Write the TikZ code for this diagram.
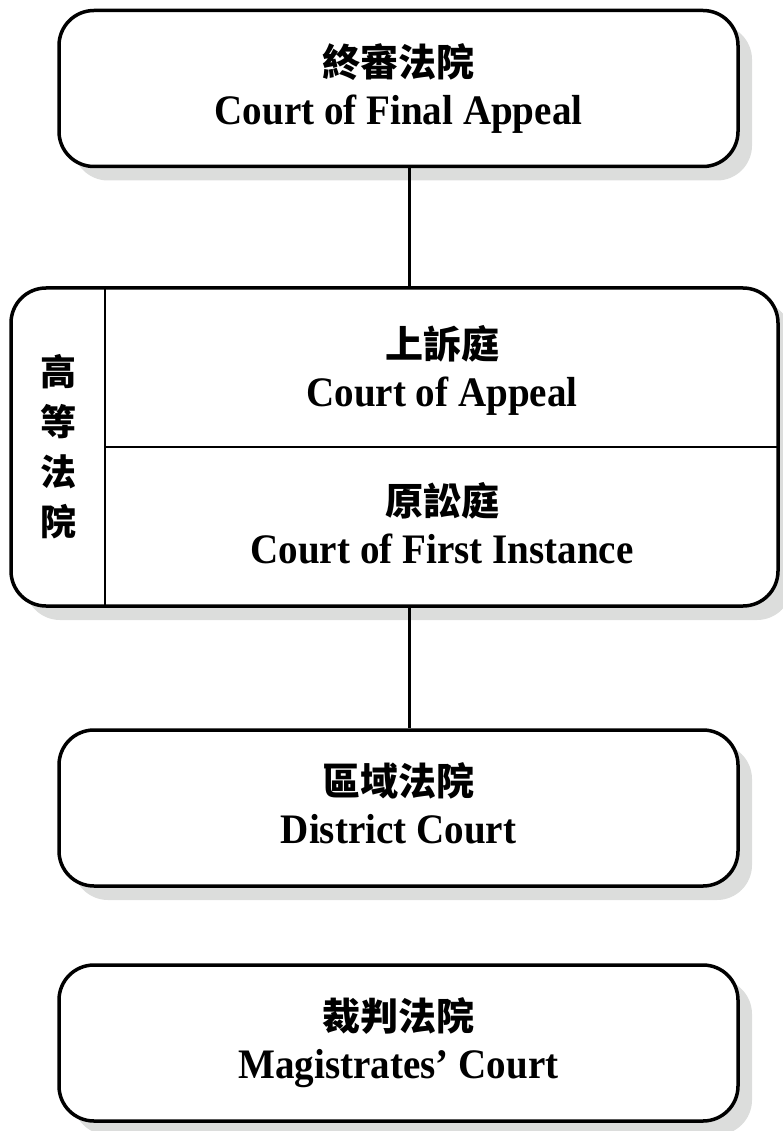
\documentclass[tikz,border=0pt]{standalone}
\usepackage{fontspec}
\setmainfont{Liberation Serif}[FakeStretch=0.93]
\newfontfamily\cjk{Noto Sans CJK TC}
\newcommand\zh[1]{{\cjk\fontsize{38}{48}\selectfont #1}}
\usetikzlibrary{positioning,shadows}
\definecolor{shadowgray}{HTML}{DCDDDC}

\begin{document}
\begin{tikzpicture}
		[
		x = 1pt, y = -1pt,
		court/.style   = {draw, line width=3.5pt, rounded corners=35pt, fill=white,
			drop shadow={shadow xshift=14pt, shadow yshift=-14pt, fill=shadowgray, opacity=1},
			minimum width=679pt, minimum height=156pt, align=center, text depth=9pt,
			font=\bfseries\fontsize{42}{48}\selectfont},
		sectext/.style = {align=center, text depth=9pt, font=\bfseries\fontsize{42}{48}\selectfont},
		link/.style    = {line width=3pt},
		split/.style   = {line width=2pt}
		]
		\useasboundingbox (0,0) rectangle (782,1131);
		% boxes
		\node [court] (cfa) at (398.5,88.5)
		{\zh{終審法院}\\Court of Final Appeal};
		\node [court, minimum width=767pt, minimum height=318pt] (hc) at (394.5,447) {};
		\node [court] (dc) at (398.5,808)
		{\zh{區域法院}\\District Court};
		\node [court] (mc) at (398.5,1043)
		{\zh{裁判法院}\\Magistrates’ Court};
		% high court inside
		\coordinate (col) at (105,0);
		\coordinate (spine) at (409,0);
		\draw [split] (hc.north -| col) -- (hc.south -| col);
		\draw [split] (hc.west -| col) -- (hc.east);
		\node [align=center, font=\cjk\bfseries\fontsize{36}{50}\selectfont] (hcname) at (58,447)
		{高\\等\\法\\院};
		\node [sectext] (ca) at (442,370) {\zh{上訴庭}\\Court of Appeal};
		\node [sectext] (cfi) at (442,527) {\zh{原訟庭}\\Court of First Instance};
		% links
		\draw [link] (cfa.south -| spine) -- (hc.north -| spine);
		\draw [link] (hc.south -| spine) -- (dc.north -| spine);
\end{tikzpicture}
\end{document}
